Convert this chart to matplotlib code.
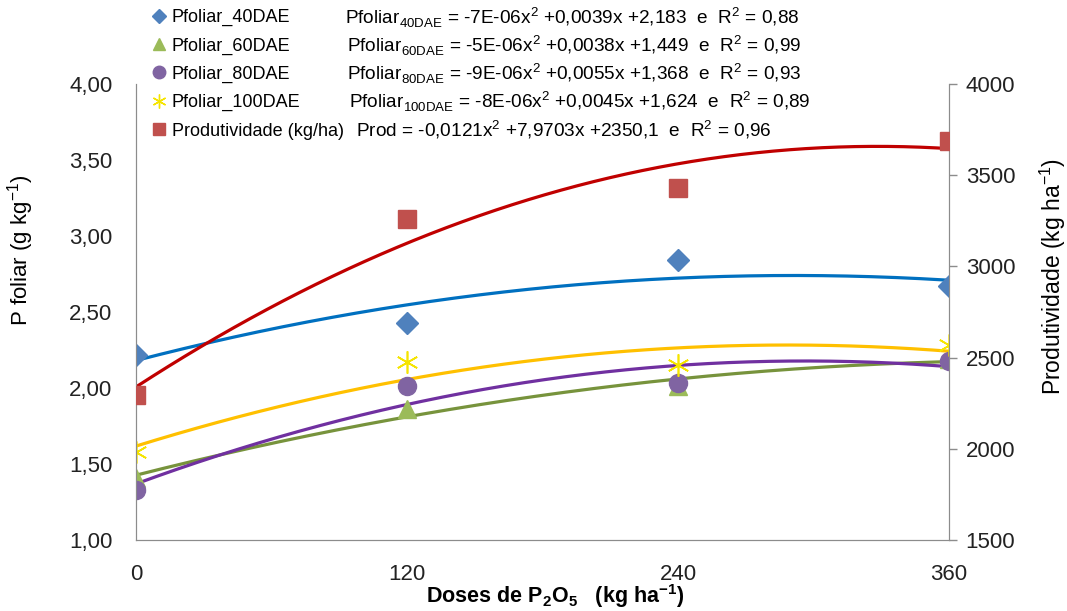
import numpy as np
import matplotlib
matplotlib.use('Agg')
import matplotlib.pyplot as plt
from matplotlib.lines import Line2D

plt.rcParams['font.family'] = ['Liberation Sans', 'DejaVu Sans']
plt.rcParams['mathtext.fontset'] = 'custom'
plt.rcParams['mathtext.rm'] = 'Liberation Sans'

doses = [0, 120, 240, 360]
p40 = [2.22, 2.43, 2.84, 2.67]
p60 = [1.41, 1.86, 2.01, 2.19]
p80 = [1.33, 2.01, 2.03, 2.18]
p100 = [1.58, 2.17, 2.15, 2.28]
prod = [2295, 3260, 3430, 3690]

names = ['Pfoliar_40DAE', 'Pfoliar_60DAE', 'Pfoliar_80DAE', 'Pfoliar_100DAE', 'Produtividade (kg/ha)']
eqs = [r'Pfoliar$_\mathregular{40DAE}$ = -7E-06x$^\mathregular{2}$ +0,0039x +2,183  e  R$^\mathregular{2}$ = 0,88',
       r'Pfoliar$_\mathregular{60DAE}$ = -5E-06x$^\mathregular{2}$ +0,0038x +1,449  e  R$^\mathregular{2}$ = 0,99',
       r'Pfoliar$_\mathregular{80DAE}$ = -9E-06x$^\mathregular{2}$ +0,0055x +1,368  e  R$^\mathregular{2}$ = 0,93',
       r'Pfoliar$_\mathregular{100DAE}$ = -8E-06x$^\mathregular{2}$ +0,0045x +1,624  e  R$^\mathregular{2}$ = 0,89',
       r'Prod = -0,0121x$^\mathregular{2}$ +7,9703x +2350,1  e  R$^\mathregular{2}$ = 0,96']

mk_col = ['#4F81BD', '#9BBB59', '#8064A2', '#F5E400', '#C0504D']
ln_col = ['#0070C0', '#77933C', '#7030A0', '#FFC000', '#C00000']
markers = ['D', '^', 'o', (6, 2, 0), 's']
msizes = [11, 13, 13, 16, 13]

fig = plt.figure(figsize=(10.67, 6.11), dpi=100)
ax = fig.add_axes([0.1275, 0.1162, 0.7619, 0.7463])
ax2 = ax.twinx()

# excel-style 2nd order trendlines
xs = np.linspace(0, 360, 200)
series = [p40, p60, p80, p100]
for i, s in enumerate(series):
    c = np.polyfit(doses, s, 2)
    ax.plot(xs, np.polyval(c, xs), color=ln_col[i], lw=2.3, zorder=2)
for i, s in enumerate(series):
    if i == 3:
        ax.plot(doses, s, linestyle='none', marker=markers[i], ms=msizes[i],
                color=mk_col[i], mew=1.2, zorder=3)
    else:
        ax.plot(doses, s, linestyle='none', marker=markers[i], ms=msizes[i],
                color=mk_col[i], mec=mk_col[i], zorder=3)

c = np.polyfit(doses, prod, 2)
ax2.plot(xs, np.polyval(c, xs), color=ln_col[4], lw=2.3, zorder=2)
ax2.plot(doses, prod, linestyle='none', marker='s', ms=msizes[4], color=mk_col[4], zorder=3)

ax.set_xlim(0, 360)
ax.set_ylim(1, 4)
ax2.set_ylim(1500, 4000)
ax.set_xticks(doses)
ax.set_yticks(np.arange(1, 4.01, 0.5))
ax.set_yticklabels([f'{v:.2f}'.replace('.', ',') for v in np.arange(1, 4.01, 0.5)])
ax2.set_yticks(np.arange(1500, 4001, 500))

for a in (ax, ax2):
    for sp in a.spines.values():
        sp.set_color('#8c8c8c')
    a.spines['top'].set_visible(False)
ax.tick_params(axis='y', length=0, pad=17, labelsize=16, colors='#222222')
ax.tick_params(axis='x', length=0, pad=17, labelsize=16, colors='#222222')
ax2.tick_params(axis='y', length=6, width=1, color='#8c8c8c', pad=6, labelsize=16, labelcolor='#222222')

ax.set_xlabel(r'Doses de P$_\mathregular{2}$O$_\mathregular{5}$   (kg ha$^\mathregular{-1}$)',
              fontsize=15.5, fontweight='bold')
ax.xaxis.set_label_coords(0.515, -0.139)
ax.xaxis.label.set_verticalalignment('baseline')
fig.text(0.019, 0.59, r'P foliar (g kg$^\mathregular{-1}$)', rotation=90, ha='center', va='center', fontsize=16)
fig.text(0.987, 0.547, r'Produtividade (kg ha$^\mathregular{-1}$)', rotation=90, ha='center', va='center', fontsize=16.5)

handles = [Line2D([], [], linestyle='none', marker=markers[i], color=mk_col[i],
                  ms=[7, 9, 9, 10, 9][i], mew=1) for i in range(5)]
fig.legend(handles, names, loc='upper left', bbox_to_anchor=(0.134, 0.997), frameon=False,
           fontsize=13, handletextpad=0.2, labelspacing=0.62, handlelength=1.0, borderaxespad=0)

eq_x = [345, 347, 347, 349, 356]
eq_y = [18, 46, 74, 102, 130]
for i in range(5):
    fig.text(eq_x[i] / 1067, 1 - eq_y[i] / 611, eqs[i], ha='left', va='center', fontsize=13.7)

fig.savefig('out.png', dpi=100)
